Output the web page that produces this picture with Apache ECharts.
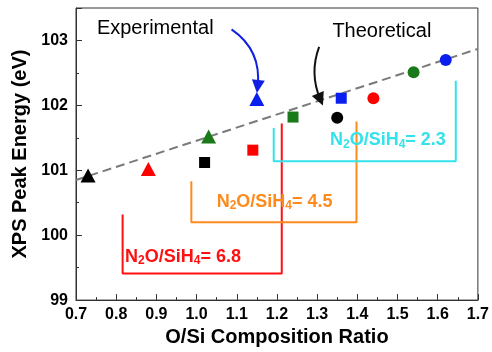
<!DOCTYPE html>
<html>
<head>
<meta charset="utf-8">
<script src="https://cdn.jsdelivr.net/npm/echarts@6/dist/echarts.min.js"></script>
<style>
  html, body { margin: 0; padding: 0; background: #fff; }
  #chart { width: 492px; height: 352px; }
</style>
</head>
<body>
<div id="chart"></div>
<script>
// colours of the four samples (black, red, green, blue)
var groupColors = ['#000000', '#ff0000', '#1a7a1a', '#0a1ef0'];

// experimental points (triangles)
var expX = [0.73, 0.88, 1.03, 1.15];
var expY = [100.92, 101.02, 101.52, 102.10];
// theoretical points (squares)
var sqX = [1.02, 1.14, 1.24, 1.36];
var sqY = [101.12, 101.31, 101.82, 102.11];
// theoretical points (circles)
var ciX = [1.35, 1.44, 1.54, 1.62];
var ciY = [101.81, 102.11, 102.51, 102.70];

// dashed trend line
var fitLine = [[0.70, 100.85], [1.70, 102.87]];

// brackets for the gas ratios
var bracketRed = [[0.816, 100.32], [0.816, 99.41], [1.212, 99.41], [1.212, 101.72]];
var bracketOrange = [[0.987, 100.83], [0.987, 100.20], [1.398, 100.20], [1.398, 101.75]];
var bracketCyan = [[1.192, 101.65], [1.192, 101.14], [1.645, 101.14], [1.645, 102.38]];

var ratioLabels = ['6.8', '4.5', '2.3'];
var ratioPos = [[0.822, 99.67], [1.050, 100.51], [1.332, 101.46]];
var ratioColors = ['#ff1010', '#ff8a1c', '#33e2ea'];

// annotations
var noteText = ['Experimental', 'Theoretical'];
var notePos = [[0.752, 103.18], [1.338, 103.14]];
var arrowBlue = [[1.087, 103.17], [1.152, 102.29]];
var arrowBlack = [[1.305, 102.90], [1.308, 102.09]];

var xTicks = [0.7, 0.8, 0.9, 1.0, 1.1, 1.2, 1.3, 1.4, 1.5, 1.6, 1.7];
var yTicks = [99, 100, 101, 102, 103];

function pts(xs, ys) {
    return xs.map(function (x, i) {
        return {value: [x, ys[i]], itemStyle: {color: groupColors[i], opacity: 1}};
    });
}

function bracket(data, color) {
    return {
        type: 'line', data: data, symbol: 'none', silent: true,
        lineStyle: {color: color, width: 2}, z: 3
    };
}

function ratioLabel(i) {
    var c = ratioColors[i];
    return {
        type: 'scatter', symbolSize: 0, silent: true, z: 6,
        itemStyle: {opacity: 1},
        data: [ratioPos[i]],
        label: {
            show: true, position: 'right', distance: 0,
            formatter: '{m|N}{s|2}{m|O/SiH}{s|4}{m|= ' + ratioLabels[i] + '}',
            rich: {
                m: {fontSize: 18, fontWeight: 'bold', color: c, lineHeight: 20, fontFamily: 'Liberation Sans'},
                s: {fontSize: 12, fontWeight: 'bold', color: c, lineHeight: 6, verticalAlign: 'bottom', fontFamily: 'Liberation Sans'}
            }
        }
    };
}

function note(i) {
    return {
        type: 'scatter', symbolSize: 0, silent: true, z: 6,
        itemStyle: {opacity: 1},
        data: [notePos[i]],
        label: {
            show: true, position: 'right', distance: 0, formatter: noteText[i],
            fontSize: 20, color: '#000', fontFamily: 'Liberation Sans'
        }
    };
}

function arrow(coords, color, curve) {
    return {
        type: 'lines', coordinateSystem: 'cartesian2d', silent: true, z: 5,
        symbol: ['none', 'triangle'], symbolSize: 13,
        lineStyle: {color: color, width: 2, curveness: curve, opacity: 1},
        data: [{coords: coords}]
    };
}

var chart = echarts.init(document.getElementById('chart'));
var option = {
    animation: false,
    backgroundColor: '#fff',
    grid: {left: 76, right: 13, top: 8, bottom: 46, show: true, borderColor: '#333', borderWidth: 1},
    xAxis: {
        type: 'value', min: 0.7, max: 1.7, interval: 0.1,
        name: 'O/Si Composition Ratio', nameLocation: 'middle', nameGap: 24,
        nameTextStyle: {fontSize: 20, fontWeight: 'bold', color: '#000', fontFamily: 'Liberation Sans', verticalAlign: 'top'},
        axisLine: {lineStyle: {color: '#333', width: 1}},
        axisTick: {inside: true, length: 6, lineStyle: {color: '#333'}},
        minorTick: {show: true, splitNumber: 2, length: 3, lineStyle: {color: '#333'}},
        splitLine: {show: false},
        axisLabel: {
            margin: 6, fontSize: 16, fontWeight: 'bold', color: '#000', fontFamily: 'Liberation Sans',
            formatter: function (v) {
                var t = Math.round(v * 10) / 10;
                return xTicks.indexOf(t) >= 0 ? t.toFixed(1) : '';
            }
        }
    },
    yAxis: {
        type: 'value', min: 99, max: 103.5, interval: 1,
        name: 'XPS Peak Energy (eV)', nameLocation: 'middle', nameGap: 42,
        nameTextStyle: {fontSize: 20, fontWeight: 'bold', color: '#000', fontFamily: 'Liberation Sans'},
        axisLine: {show: true, lineStyle: {color: '#333', width: 1}},
        axisTick: {show: true, inside: true, length: 6, lineStyle: {color: '#333'}},
        minorTick: {show: true, splitNumber: 2, length: 3, lineStyle: {color: '#333'}},
        splitLine: {show: false},
        axisLabel: {
            margin: 8, fontSize: 16, fontWeight: 'bold', color: '#000', fontFamily: 'Liberation Sans',
            formatter: function (v) { return yTicks.indexOf(v) >= 0 ? String(v) : ''; }
        }
    },
    series: [
        {
            type: 'line', data: fitLine, symbol: 'none', silent: true, z: 2,
            lineStyle: {color: '#7a7a7a', width: 2, type: [9, 5]}
        },
        bracket(bracketRed, ratioColors[0]),
        bracket(bracketOrange, ratioColors[1]),
        bracket(bracketCyan, ratioColors[2]),
        {type: 'scatter', symbol: 'triangle', symbolSize: [15, 14], z: 4, data: pts(expX, expY)},
        {type: 'scatter', symbol: 'rect', symbolSize: 11, z: 4, data: pts(sqX, sqY)},
        {type: 'scatter', symbol: 'circle', symbolSize: 12, z: 4, data: pts(ciX, ciY)},
        ratioLabel(0), ratioLabel(1), ratioLabel(2),
        note(0), note(1),
        arrow(arrowBlue, '#1020e0', 0.3),
        arrow(arrowBlack, '#111111', -0.2)
    ]
};
chart.setOption(option);
</script>
</body>
</html>
